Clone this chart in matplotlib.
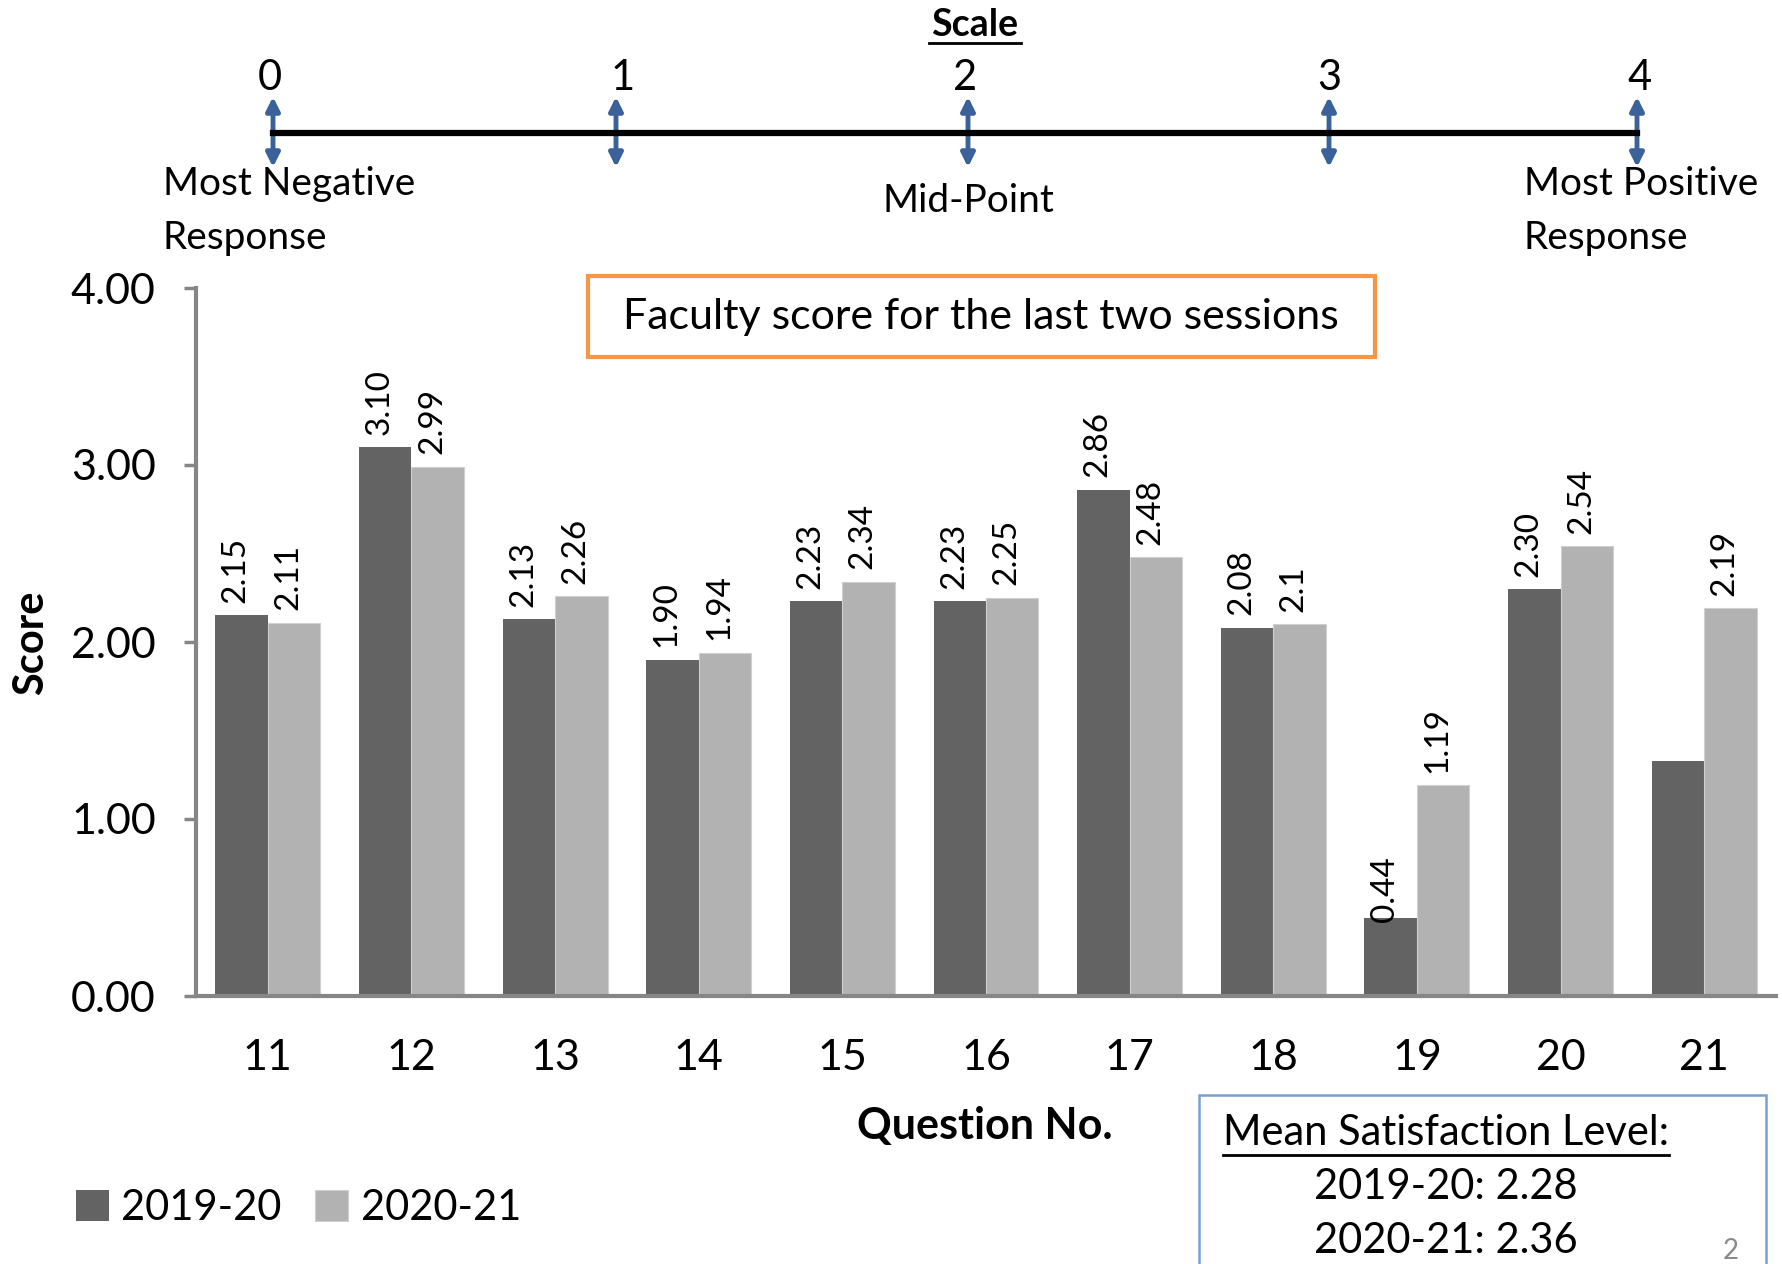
import numpy as np
import matplotlib
matplotlib.use('Agg')
from matplotlib import pyplot as plt
from matplotlib.patches import FancyArrowPatch, Rectangle
from matplotlib.lines import Line2D

plt.rcParams['font.family'] = ['Lato', 'DejaVu Sans']

questions = ['11', '12', '13', '14', '15', '16', '17', '18', '19', '20', '21']
s2019 = [2.15, 3.10, 2.13, 1.90, 2.23, 2.23, 2.86, 2.08, 0.44, 2.30, 1.33]
s2020 = [2.11, 2.99, 2.26, 1.94, 2.34, 2.25, 2.48, 2.10, 1.19, 2.54, 2.19]
lab2019 = ['2.15', '3.10', '2.13', '1.90', '2.23', '2.23', '2.86', '2.08',
           '0.44', '2.30', '']
lab2020 = ['2.11', '2.99', '2.26', '1.94', '2.34', '2.25', '2.48', '2.1',
           '1.19', '2.54', '2.19']
series_names = ['2019-20', '2020-21']
scale_vals = ['0', '1', '2', '3', '4']
mean_2019 = 2.28
mean_2020 = 2.36

W, H = 1783, 1264
fig = plt.figure(figsize=(W / 100, H / 100), dpi=100)


def fx(px):
    return px / W


def fy(py):
    return 1 - py / H


dark = '#636363'
light = '#b2b2b2'
axcol = '#868686'

ax = fig.add_axes([fx(196), fy(996), fx(1776) - fx(196), fy(288) - fy(996)])
x = np.arange(len(questions))
bw = 0.365
b1 = ax.bar(x - bw / 2, s2019, bw, color=dark, label=series_names[0])
b2 = ax.bar(x + bw / 2, s2020, bw, color=light, label=series_names[1],
            edgecolor='#d0d0d0', linewidth=0.8)
for bars, labs in ((b1, lab2019), (b2, lab2020)):
    for r, t in zip(bars, labs):
        if t:
            h = r.get_height()
            off = 0.07 if h > 0.6 else -0.02
            ax.text(r.get_x() + r.get_width() / 2 - 0.04, h + off, t,
                    rotation=90, ha='center', va='bottom', fontsize=24)

ax.set_xlim(-0.5, len(questions) - 0.5)
ax.set_ylim(0, 4)
ax.set_yticks([0, 1, 2, 3, 4])
ax.set_yticklabels(['%.2f' % v for v in [0, 1, 2, 3, 4]], fontsize=31)
ax.set_xticks(x)
ax.set_xticklabels(questions, fontsize=31)
ax.tick_params(axis='x', length=0, pad=31)
ax.tick_params(axis='y', length=9, width=2.5, color=axcol, pad=20)
for s in ['top', 'right']:
    ax.spines[s].set_visible(False)
for s in ['left', 'bottom']:
    ax.spines[s].set_color(axcol)
    ax.spines[s].set_linewidth(3)
fig.text(fx(31), fy(643), 'Score', fontsize=30, fontweight='bold',
         rotation=90, ha='center', va='center')
fig.text(fx(985), fy(1126), 'Question No.', fontsize=31, fontweight='bold',
         ha='center', va='center')

# title box
fig.patches.append(Rectangle((fx(588), fy(357)), fx(1375) - fx(588),
                             fy(276) - fy(357), transform=fig.transFigure,
                             fill=False, edgecolor='#f79646', linewidth=3))
fig.text(fx(981), fy(317), 'Faculty score for the last two sessions',
         fontsize=31, ha='center', va='center')

# legend
fig.legend(handles=[b1, b2], loc='center left',
           bbox_to_anchor=(fx(38), fy(1208)), ncol=2, frameon=False,
           fontsize=30, handlelength=0.8, handleheight=0.8,
           handletextpad=0.3, columnspacing=0.8)

# scale graphic
fig.text(fx(975), fy(25), 'Scale', fontsize=27, fontweight='bold',
         ha='center', va='center')
fig.lines.append(Line2D([fx(929), fx(1021)], [fy(43), fy(43)],
                        transform=fig.transFigure, color='black', lw=2))
fig.lines.append(Line2D([fx(273), fx(1637)], [fy(133), fy(133)],
                        transform=fig.transFigure, color='black', lw=4.5))
num_x = [270, 623, 965, 1329, 1640]
arr_x = [273, 616, 968, 1329, 1637]
for t, nx, axx in zip(scale_vals, num_x, arr_x):
    fig.text(fx(nx), fy(78), t, fontsize=30, ha='center', va='center')
    fig.patches.append(FancyArrowPatch((fx(axx), fy(94)), (fx(axx), fy(170)),
                                       transform=fig.transFigure,
                                       arrowstyle='<|-|>', mutation_scale=20,
                                       color='#3a6199', lw=3.5))
fig.text(fx(163), fy(211), 'Most Negative\nResponse', fontsize=28,
         ha='left', va='center', linespacing=1.6)
fig.text(fx(968), fy(201), 'Mid-Point', fontsize=28, ha='center',
         va='center')
fig.text(fx(1524), fy(211), 'Most Positive\nResponse', fontsize=28,
         ha='left', va='center', linespacing=1.6)

# mean box
fig.patches.append(Rectangle((fx(1199), fy(1290)), fx(1766) - fx(1199),
                             fy(1095) - fy(1290), transform=fig.transFigure,
                             fill=False, edgecolor='#7a9fd4', linewidth=1.8))
mt = fig.text(fx(1446), fy(1133), 'Mean Satisfaction Level:', fontsize=30,
              ha='center', va='center')
fig.text(fx(1446), fy(1187), '%s: %.2f' % (series_names[0], mean_2019),
         fontsize=30, ha='center', va='center')
fig.text(fx(1446), fy(1241), '%s: %.2f' % (series_names[1], mean_2020),
         fontsize=30, ha='center', va='center')
fig.canvas.draw()
bb = mt.get_window_extent().transformed(fig.transFigure.inverted())
fig.lines.append(Line2D([bb.x0, bb.x1], [fy(1155), fy(1155)],
                        transform=fig.transFigure, color='black', lw=2))
fig.text(fx(1731), fy(1251), '2', fontsize=20, color='#8a8a8a',
         ha='center', va='center')

fig.savefig('out.png', dpi=100)
